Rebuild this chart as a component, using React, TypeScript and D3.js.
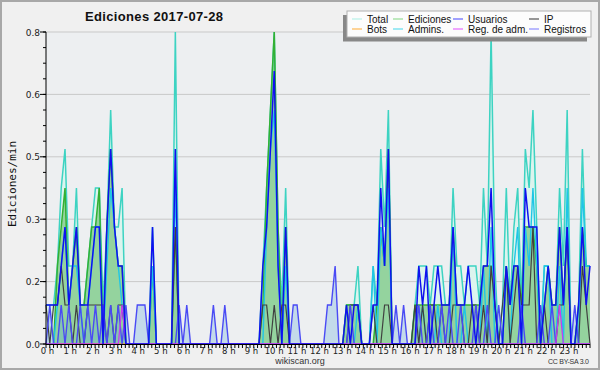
import React from 'react';
import * as d3 from 'd3';

// Counts of actions per 10-minute bin (144 bins, 00:00 .. 23:50); plotted value = count / 10 per minute
const total = [
  1,1,1,2,4,5,2,2,4,1,1,2,3,4,4,1,3,6,3,3,4,0,0,0,
  0,0,0,0,3,0,0,0,0,0,8,0,0,0,0,0,0,0,0,0,0,0,0,0,
  0,0,0,0,0,0,0,0,0,2,4,6,8,3,1,4,0,0,0,0,0,0,0,0,
  0,0,0,0,0,0,0,1,1,1,2,0,0,0,2,1,5,3,6,0,0,0,0,0,
  0,1,2,2,2,1,2,2,2,1,1,4,2,2,1,2,2,2,1,4,2,8,2,0,
  1,4,1,3,4,1,5,4,6,3,0,2,2,1,1,4,2,6,0,0,1,5,2,2,
];
const ediciones = [
  0,0,0,2,3,4,1,2,3,1,1,2,3,3,4,0,3,5,3,2,2,0,0,0,
  0,0,0,0,2,0,0,0,0,0,3,0,0,0,0,0,0,0,0,0,0,0,0,0,
  0,0,0,0,0,0,0,0,0,1,4,6,8,3,0,3,0,0,0,0,0,0,0,0,
  0,0,0,0,0,0,0,1,1,1,1,0,0,0,0,1,3,2,5,0,0,0,0,0,
  0,1,1,1,1,1,1,1,1,1,1,3,1,1,1,1,1,1,1,2,2,2,1,0,
  0,2,1,2,2,1,3,3,3,2,0,1,2,1,1,3,1,3,0,0,1,3,2,2,
];
const usuarios = [
  1,1,1,1,2,3,1,2,3,1,1,1,2,3,3,0,3,5,3,2,2,0,0,0,
  0,0,0,0,3,0,0,0,0,0,5,0,0,0,0,0,0,0,0,0,0,0,0,0,
  0,0,0,0,0,0,0,0,0,2,3,5,7,2,0,3,0,0,0,0,0,0,0,0,
  0,0,0,0,0,0,0,1,0,1,1,0,0,0,1,1,4,2,5,0,0,0,0,0,
  0,0,2,1,2,0,1,2,1,1,1,3,1,1,1,2,1,0,1,2,2,4,1,0,
  0,2,1,2,2,0,4,3,3,3,0,1,2,1,1,3,1,3,0,0,1,3,1,2,
];
const ip = [
  1,0,1,1,2,1,1,0,1,0,0,1,1,1,1,1,0,1,0,1,1,0,0,0,
  0,0,0,0,0,0,0,0,0,0,3,0,0,0,0,0,0,0,0,0,0,0,0,0,
  0,0,0,0,0,0,0,0,0,1,1,0,1,0,1,1,0,0,0,0,0,0,0,0,
  0,0,0,0,0,0,0,0,1,1,1,0,0,0,1,0,0,1,1,0,0,0,0,0,
  0,1,0,1,0,1,1,0,1,0,0,1,1,1,0,0,1,1,0,1,0,2,1,0,
  1,2,0,1,2,1,1,1,3,0,0,1,0,0,0,1,1,3,0,0,0,2,1,0,
];
const bots = [
  0,0,0,0,0,0,0,0,0,0,0,0,0,0,0,0,0,0,0,0,0,0,0,0,
  0,0,0,0,0,0,0,0,0,0,0,0,0,0,0,0,0,0,0,0,0,0,0,0,
  0,0,0,0,0,0,0,0,0,0,0,0,0,0,0,0,0,0,0,0,0,0,0,0,
  0,0,0,0,0,0,0,0,0,0,0,0,0,0,0,0,0,0,0,0,0,0,0,0,
  0,0,0,0,0,0,0,0,0,0,0,0,0,0,0,0,0,0,0,0,0,0,0,0,
  0,0,0,0,0,0,0,0,0,0,0,0,0,0,0,0,0,0,0,0,0,0,0,0,
];
const admins = [
  0,0,0,1,2,3,1,2,2,1,0,1,2,3,3,0,2,4,3,2,1,0,0,0,
  0,0,0,0,2,0,0,0,0,0,4,0,0,0,0,0,0,0,0,0,0,0,0,0,
  0,0,0,0,0,0,0,0,0,0,3,5,6,2,0,2,0,0,0,0,0,0,0,0,
  0,0,0,0,0,0,0,0,0,0,1,0,0,0,2,0,3,2,4,0,0,0,0,0,
  0,0,0,1,0,0,0,1,0,0,0,3,0,0,1,0,0,0,0,2,0,3,0,0,
  0,2,0,2,3,0,3,2,4,2,0,2,2,0,0,2,0,4,0,0,0,4,2,2,
];
const regAdm = [
  0,0,0,0,0,0,0,0,0,0,0,0,0,0,0,0,0,0,0,0,1,0,0,0,
  0,0,0,0,0,0,0,0,0,0,0,0,0,0,0,0,0,0,0,0,0,0,0,0,
  0,0,0,0,0,0,0,0,0,0,0,0,0,0,0,0,0,0,0,0,0,0,0,0,
  0,0,0,0,0,0,0,0,0,0,0,0,0,0,0,0,0,0,0,0,0,0,0,0,
  0,0,0,0,0,0,0,0,0,0,0,0,0,0,0,0,0,0,0,0,0,0,0,0,
  0,0,0,0,0,0,0,0,0,0,0,0,0,0,0,1,0,0,0,0,0,0,0,0,
];
const registros = [
  0,1,0,0,1,0,1,0,0,1,0,1,0,1,0,1,0,1,0,1,0,1,0,0,
  1,1,1,0,0,0,0,0,0,0,0,1,0,1,0,0,0,0,0,0,1,0,0,1,
  0,0,0,0,0,0,0,0,0,0,0,0,0,0,0,0,0,1,1,0,0,0,0,0,
  0,0,1,1,2,0,0,0,1,0,0,0,0,0,0,0,0,0,0,0,1,0,1,0,
  0,0,1,0,0,1,0,0,1,0,1,0,0,1,0,0,0,1,0,0,1,0,0,1,
  0,0,0,0,0,1,0,0,0,0,1,0,0,1,0,0,0,0,0,1,0,0,0,0,
];

const yTicks = [0, 0.16, 0.32, 0.48, 0.64, 0.8];
const hours = d3.range(0, 24);
const legendNames = ['Total', 'Ediciones', 'Usuarios', 'IP', 'Bots', 'Admins.', 'Reg. de adm.', 'Registros'];
const legendColors = ['#a8efe4', '#80d680', '#4444ff', '#333333', '#ffaa33', '#40d6ea', '#e04cff', '#7777ff'];

const W = 600, H = 370;

export default function App() {
  const L = 46, R = 590, T = 32, B = 344;
  const x = d3.scaleLinear().domain([0, total.length - 1]).range([L, R]);
  const hx = d3.scaleLinear().domain([0, 24]).range([L, R]);
  const y = d3.scaleLinear().domain([0, 0.8]).range([B, T]);
  const line = d3.line<number>().x((_, i) => x(i)).y(d => y(d / 10));
  const area = d3.area<number>().x((_, i) => x(i)).y0(y(0)).y1(d => y(d / 10));
  const minorY = d3.range(0, 21).map(k => k * 0.04);
  const minorX = d3.range(0, 24 * 6 + 1).map(k => k / 6);
  const fmt = d3.format('.1f');

  const lines: [number[], string, number][] = [
    [bots, '#ff9f20', 1.3],
    [total, '#3dd3c2', 1.5],
    [ediciones, '#33b033', 1.5],
    [admins, '#1fc6e6', 1.4],
    [ip, '#404040', 1.2],
    [registros, '#4a4af5', 1.4],
    [regAdm, '#c83cf0', 1.3],
    [usuarios, '#1010f0', 1.5],
  ];

  const colX = [352, 393, 453, 529];
  return (
    <svg width={W} height={H} style={{ position: 'fixed', left: 0, top: 0 }} xmlns="http://www.w3.org/2000/svg">
      <rect x={0} y={0} width={W} height={H} fill="#f0f0f0" />
      <rect x={1} y={1} width={W - 2} height={H - 2} fill="none" stroke="#a8a8a8" strokeWidth={2} />
      <rect x={L} y={T} width={R - L} height={B - T} fill="#edeff1" />
      {yTicks.slice(1).map(t => (
        <line key={'g' + t} x1={L} x2={R} y1={y(t)} y2={y(t)} stroke="#c9c9c9" strokeWidth={1} />
      ))}
      <path d={area(total) || ''} fill="#dcf4ee" />
      <path d={area(ediciones) || ''} fill="rgba(60,170,60,0.45)" />
      <path d={area(registros) || ''} fill="rgba(100,170,220,0.3)" />
      {lines.map(([arr, c, w], k) => (
        <path key={'l' + k} d={line(arr) || ''} fill="none" stroke={c} strokeWidth={w} strokeLinejoin="miter" />
      ))}
      <line x1={L} x2={L} y1={T} y2={B} stroke="#000" />
      <line x1={L} x2={R} y1={B + 0.5} y2={B + 0.5} stroke="#000" />
      {minorY.map(t => (
        <line key={'my' + t} x1={L - 3} x2={L} y1={y(t)} y2={y(t)} stroke="#000" />
      ))}
      {yTicks.map(t => (
        <g key={'yt' + t}>
          <line x1={L - 6} x2={L} y1={y(t)} y2={y(t)} stroke="#000" />
          <text x={L - 6} y={y(t) + 3.5} textAnchor="end" fontFamily="DejaVu Sans" fontSize={9} fill="#222">{fmt(t)}</text>
        </g>
      ))}
      {minorX.map(h => (
        <line key={'mx' + h} x1={hx(h)} x2={hx(h)} y1={B} y2={B + 4} stroke="#000" />
      ))}
      {hours.map(h => (
        <text key={'h' + h} x={hx(h) + 1.5} y={354} textAnchor="middle" fontFamily="DejaVu Sans" fontSize={8.5} fill="#222">{`${h} h`}</text>
      ))}
      <text x={85} y={21} fontFamily="Liberation Sans" fontWeight="bold" fontSize={13} textLength={138} lengthAdjust="spacing" fill="#111">Ediciones  2017-07-28</text>
      <text transform="translate(16,184) rotate(-90)" textAnchor="middle" fontFamily="DejaVu Sans Mono" fontSize={11} fill="#111">Ediciones/min</text>
      <text x={300} y={364} textAnchor="middle" fontFamily="Liberation Sans" fontSize={9} fill="#333">wikiscan.org</text>
      <text x={548} y={364} fontFamily="Liberation Sans" fontSize={7} textLength={41} lengthAdjust="spacing" fill="#333">CC BY-SA  3.0</text>
      <rect x={343} y={15} width={244} height={26.5} fill="#888" />
      <rect x={347} y={11} width={244} height={26} fill="#fcfcfc" stroke="#b0b0b0" />
      {legendNames.map((n, k) => {
        const col = k % 4, row = Math.floor(k / 4);
        const lx = colX[col];
        const ly = 19 + row * 10;
        return (
          <g key={n}>
            <line x1={lx} x2={lx + 10} y1={ly} y2={ly} stroke={legendColors[k]} strokeWidth={1} />
            <text x={lx + 15} y={ly + 3.5} fontFamily="Liberation Sans" fontSize={10} fill="#111">{n}</text>
          </g>
        );
      })}
    </svg>
  );
}
